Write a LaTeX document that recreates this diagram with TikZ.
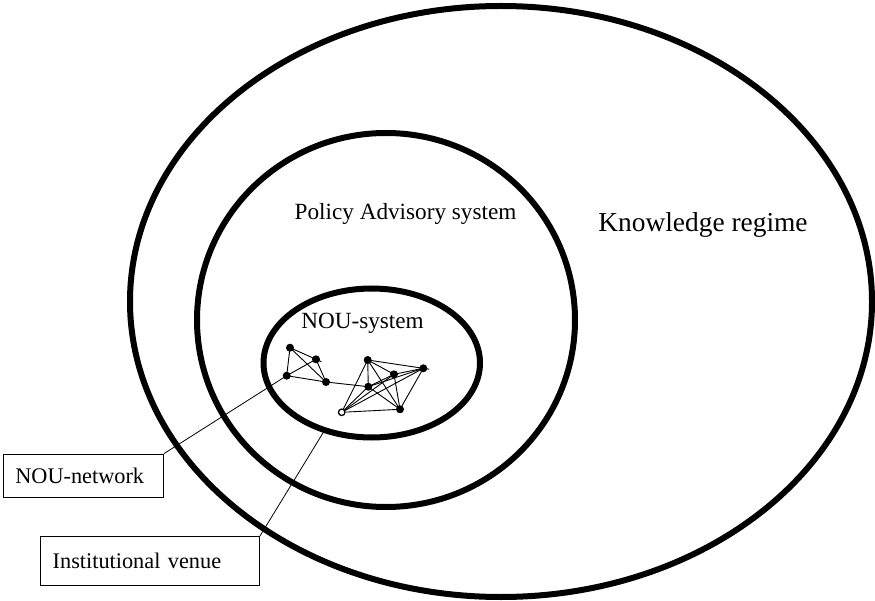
\documentclass[tikz,border=0pt]{standalone}
\usepackage{fontspec}
\setmainfont{Liberation Serif}
\begin{document}
\begin{tikzpicture}[x=1pt,y=-1pt,
  ring/.style={line width=6pt},
  dot/.style={circle,fill=black,inner sep=0pt,minimum size=8pt},
  odot/.style={circle,draw=black,fill=white,line width=1.3pt,inner sep=0pt,minimum size=6.5pt},
  edge/.style={line width=0.9pt},
  lead/.style={line width=0.8pt},
  lbl/.style={font=\fontsize{23.2}{26}\selectfont,anchor=base,inner sep=0pt},
  bigl/.style={font=\fontsize{27.4}{30}\selectfont,anchor=base,inner sep=0pt},
  boxl/.style={draw,line width=1.2pt,font=\fontsize{22.3}{25}\selectfont,align=left,inner ysep=0pt}
]
\useasboundingbox (0,0) rectangle (875,601);
% rings
\draw[ring] (501,301.5) ellipse [x radius=371, y radius=295.5];
\draw[ring] (386,320) ellipse [x radius=189, y radius=187];
\draw[ring] (371.75,363) ellipse [x radius=108.25, y radius=74.5];
% labels
\node[bigl] (kr) at (703,231.7) {Knowledge regime};
\node[lbl] (pas) at (405.5,220) {Policy Advisory system};
\node[lbl] (nsys) at (362.5,328.3) {NOU-system};
% network nodes
\node[dot] (A) at (290,347.7) {};
\node[dot] (B) at (316,359.3) {};
\node[dot] (C) at (286.7,375.7) {};
\node[dot] (D) at (326,382) {};
\node[dot] (E) at (367.7,360) {};
\node[dot] (F) at (423.3,368.3) {};
\node[dot] (G) at (394,374.3) {};
\node[dot] (H) at (368.3,386.7) {};
\node[dot] (J) at (400,409.3) {};
% edges
\draw[edge] (A.center) -- (C.center);
\draw[edge,shorten >=-6pt] (A.center) -- (B.center);
\draw[edge] (A.center) -- (D.center);
\draw[edge] (C.center) -- (B.center);
\draw[edge] (C.center) -- (D.center);
\draw[edge] (B.center) -- (D.center);
\draw[edge] (D.center) -- (H.center);
\draw[edge,shorten >=-6pt] (E.center) -- (F.center);
\draw[edge] (E.center) -- (G.center);
\draw[edge] (E.center) -- (H.center);
\draw[edge] (E.center) -- (J.center);
\draw[edge] (F.center) -- (G.center);
\draw[edge] (F.center) -- (H.center);
\draw[edge] (F.center) -- (J.center);
\draw[edge] (G.center) -- (H.center);
\draw[edge] (G.center) -- (J.center);
\draw[edge] (H.center) -- (J.center);
\node[odot] (I) at (341.7,412.3) {};
\draw[edge] (I) -- (E.center);
\draw[edge] (I) -- (F.center);
\draw[edge] (I) -- (G.center);
\draw[edge] (I) -- (H.center);
\draw[edge] (I) -- (J.center);
% boxes
\node[boxl,text width=136pt,inner xsep=12pt,minimum height=43.5pt] (nn) at (83.3,476) {NOU-network};
\node[boxl,text width=194.6pt,inner xsep=12pt,minimum height=49pt] (iv) at (150,561.2) {Institutional venue};
\coordinate (ivend) at (324.8,430);
% leaders
\draw[lead] (nn.north east) -- (C.center);
\draw[lead] (iv.north east) -- (ivend);
\end{tikzpicture}
\end{document}
